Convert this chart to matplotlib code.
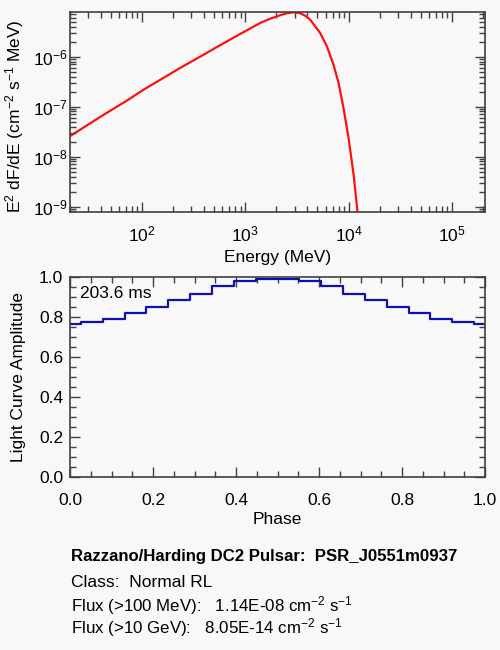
import numpy as np
import matplotlib
matplotlib.use("Agg")
import matplotlib.pyplot as plt
from matplotlib.ticker import LogLocator, MultipleLocator, FormatStrFormatter, NullFormatter

plt.rcParams['font.family'] = ['Liberation Sans', 'DejaVu Sans']
plt.rcParams['mathtext.fontset'] = 'custom'
plt.rcParams['mathtext.rm'] = 'Liberation Sans'
plt.rcParams['mathtext.it'] = 'Liberation Sans'
plt.rcParams['mathtext.default'] = 'regular'
plt.rcParams['axes.unicode_minus'] = False

# spectrum
energy_mev = [20, 43.2, 72.8, 100, 233.3, 364.8, 567.5, 889.2, 1390, 1738, 2173,
              2512, 2924, 3396, 3802, 4246, 5309, 6166, 7145, 7998, 8933, 10000,
              11190, 12220, 12880]
e2dfde = [2.57e-8, 7.05e-8, 1.36e-7, 2.10e-7, 5.94e-7, 1.00e-6, 1.69e-6, 2.84e-6,
          4.72e-6, 5.75e-6, 6.73e-6, 7.38e-6, 7.73e-6, 7.41e-6, 6.61e-6, 5.50e-6,
          2.98e-6, 1.61e-6, 6.92e-7, 2.98e-7, 9.42e-8, 2.37e-8, 4.37e-9, 7.83e-10,
          3.16e-10]

# light curve, 20 phase bins
phase = np.linspace(0.0, 1.0, 20)
amplitude = [0.767, 0.775, 0.790, 0.820, 0.852, 0.887, 0.918, 0.958, 0.982, 0.993,
             0.993, 0.982, 0.958, 0.918, 0.887, 0.852, 0.820, 0.790, 0.775, 0.767]

period_text = "203.6 ms"
info_lines = [
    "Razzano/Harding DC2 Pulsar:  PSR_J0551m0937",
    "Class:  Normal RL",
    "Flux (>100 MeV):   1.14E-08 cm$^{-2}$ s$^{-1}$",
    "Flux (>10 GeV):   8.05E-14 cm$^{-2}$ s$^{-1}$",
]

bg = '#f8f8f8'
fc = '#404040'
fs = 12.5

fig = plt.figure(figsize=(5, 6.5), dpi=100, facecolor=bg)

ax1 = fig.add_axes([0.14, 0.6743, 0.83, 0.3068], facecolor=bg)
ax1.plot(energy_mev, e2dfde, color='#ff1010', lw=1.6)
ax1.set_xscale('log')
ax1.set_yscale('log')
ax1.set_xlim(20, 2.1e5)
ax1.set_ylim(7.9e-10, max(e2dfde))
ax1.xaxis.set_major_locator(LogLocator(base=10))
ax1.yaxis.set_major_locator(LogLocator(base=10))
ax1.xaxis.set_minor_locator(LogLocator(base=10, subs=np.arange(2, 10)))
ax1.yaxis.set_minor_locator(LogLocator(base=10, subs=np.arange(2, 10)))
ax1.xaxis.set_minor_formatter(NullFormatter())
ax1.yaxis.set_minor_formatter(NullFormatter())
ax1.set_xlabel('Energy (MeV)', fontsize=fs, va='center')
ax1.set_ylabel('E$^2$ dF/dE (cm$^{-2}$ s$^{-1}$ MeV)', fontsize=fs, va='center')
ax1.xaxis.set_label_coords(0.5, -0.232)
ax1.yaxis.set_label_coords(-0.1325, 0.48)
ax1.tick_params(axis='x', which='major', pad=9)
ax1.tick_params(axis='y', which='major', pad=1.5)

ax2 = fig.add_axes([0.14, 0.2657, 0.83, 0.3077], facecolor=bg)
ax2.plot(phase, amplitude, drawstyle='steps-mid', color='#1010b0', lw=1.6)
ax2.set_xlim(0, 1)
ax2.set_ylim(0, 1)
ax2.xaxis.set_major_locator(MultipleLocator(0.2))
ax2.xaxis.set_minor_locator(MultipleLocator(0.05))
ax2.yaxis.set_major_locator(MultipleLocator(0.2))
ax2.yaxis.set_minor_locator(MultipleLocator(0.05))
ax2.xaxis.set_major_formatter(FormatStrFormatter('%.1f'))
ax2.yaxis.set_major_formatter(FormatStrFormatter('%.1f'))
ax2.set_xlabel('Phase', fontsize=fs, va='center')
ax2.set_ylabel('Light Curve Amplitude', fontsize=fs, va='center')
ax2.xaxis.set_label_coords(0.5, -0.2135)
ax2.yaxis.set_label_coords(-0.125, 0.5)
ax2.tick_params(axis='x', which='major', pad=11)
ax2.tick_params(axis='y', which='major', pad=5)
ax2.text(0.024, 0.92, period_text, transform=ax2.transAxes, fontsize=fs,
         va='center', ha='left')

for ax in (ax1, ax2):
    for s in ax.spines.values():
        s.set_color(fc)
        s.set_linewidth(1.2)
    ax.tick_params(which='both', direction='in', top=True, right=True,
                   colors=fc, labelcolor='black', labelsize=fs)
    ax.tick_params(which='major', length=7, width=1)
    ax.tick_params(which='minor', length=4, width=1)

ys = [556.7, 582.3, 606.0, 628.0]
sizes = [12.1, 12.5, 12.2, 12.2]
weights = ['bold', 'normal', 'normal', 'normal']
for line, y, s, w in zip(info_lines, ys, sizes, weights):
    fig.text(70.7 / 500, 1 - y / 650, line, fontsize=s, fontweight=w,
             va='center', ha='left')

fig.savefig('out.png', dpi=100, facecolor=bg)
